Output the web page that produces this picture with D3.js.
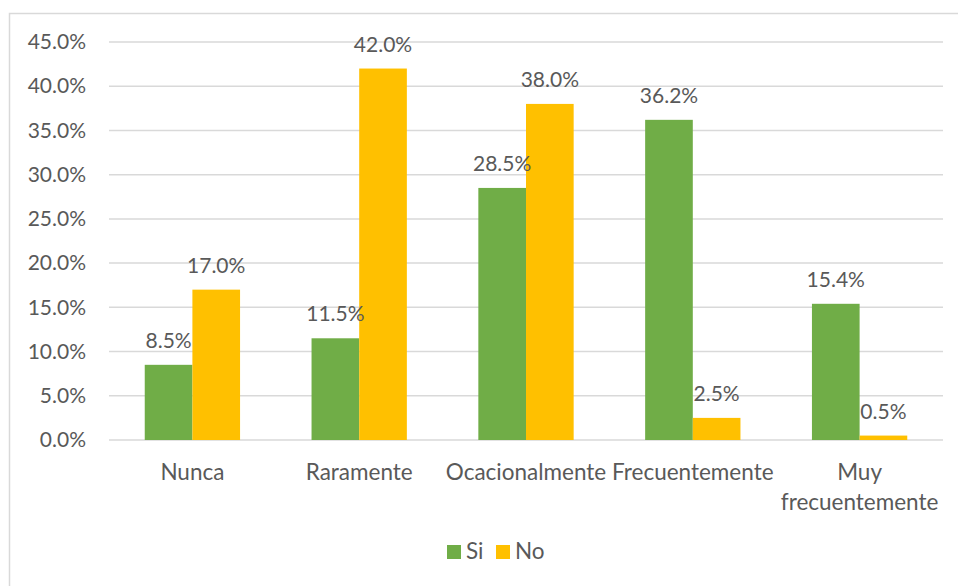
<!DOCTYPE html>
<html>
<head>
<meta charset="utf-8">
<script src="https://cdn.jsdelivr.net/npm/d3@7"></script>
<style>
  html, body { margin: 0; padding: 0; background: #fff; }
  svg { display: block; }
  text { font-family: Lato, "Open Sans", sans-serif; fill: #595959; }
</style>
</head>
<body>
<svg id="chart" width="958" height="586"></svg>
<script>
const categories = ["Nunca", "Raramente", "Ocacionalmente", "Frecuentemente", "Muy frecuentemente"];
const categoryLines = [["Nunca"], ["Raramente"], ["Ocacionalmente"], ["Frecuentemente"], ["Muy", "frecuentemente"]];
const seriesNames = ["Si", "No"];
const siValues = [8.5, 11.5, 28.5, 36.2, 15.4];
const noValues = [17.0, 42.0, 38.0, 2.5, 0.5];
const yTicks = [0, 5, 10, 15, 20, 25, 30, 35, 40, 45];
const colors = ["#70AD47", "#FFC000"];

const svg = d3.select("#chart");
const W = 958, H = 586;
const plot = { left: 109, right: 943, top: 42, bottom: 440 };
const numSize = 21;
const labelSize = 22.5;

// outer frame
svg.append("rect")
  .attr("x", 9.5).attr("y", 13.5)
  .attr("width", W + 10).attr("height", H + 10)
  .attr("fill", "none").attr("stroke", "#d9d9d9").attr("stroke-width", 1.5);

const x0 = d3.scaleBand().domain(categories).range([plot.left, plot.right]).paddingInner(0).paddingOuter(0);
// 150% gap width: two bars take 2/3.5 of each band
const barW = x0.bandwidth() / 3.5;
const x1 = d3.scaleBand().domain(seriesNames).range([0, barW * 2]);
const y = d3.scaleLinear().domain([0, 45]).range([plot.bottom, plot.top]);

// gridlines
svg.append("g").selectAll("line").data(yTicks).join("line")
  .attr("x1", plot.left).attr("x2", plot.right)
  .attr("y1", d => y(d)).attr("y2", d => y(d))
  .attr("stroke", "#d9d9d9").attr("stroke-width", 1.5);

// y axis labels
const yAxis = d3.axisLeft(y).tickValues(yTicks).tickFormat(d => d.toFixed(1) + "%").tickSize(0).tickPadding(0);
const yg = svg.append("g").attr("transform", `translate(${plot.left - 23},0)`).call(yAxis);
yg.select(".domain").remove();
yg.selectAll("text").attr("font-size", numSize).attr("font-family", "Lato").attr("fill", "#595959");

const data = categories.map((c, i) => ({ cat: c, vals: [siValues[i], noValues[i]] }));

const groups = svg.append("g").selectAll("g").data(data).join("g")
  .attr("transform", d => `translate(${x0(d.cat) + (x0.bandwidth() - barW * 2) / 2},0)`);

groups.selectAll("rect").data(d => d.vals.map((v, j) => ({ s: seriesNames[j], v, j }))).join("rect")
  .attr("x", d => x1(d.s))
  .attr("width", x1.bandwidth())
  .attr("y", d => y(d.v))
  .attr("height", d => y(0) - y(d.v))
  .attr("fill", d => colors[d.j]);

groups.selectAll("text.val").data(d => d.vals.map((v, j) => ({ s: seriesNames[j], v, j }))).join("text")
  .attr("class", "val")
  .attr("x", d => x1(d.s) + x1.bandwidth() / 2)
  .attr("y", d => y(d.v) - 17)
  .attr("text-anchor", "middle")
  .attr("font-size", numSize)
  .text(d => d.v.toFixed(1) + "%");

// category labels
const xl = svg.append("g").selectAll("text").data(categories).join("text")
  .attr("x", d => x0(d) + x0.bandwidth() / 2)
  .attr("y", 480)
  .attr("text-anchor", "middle")
  .attr("font-size", labelSize);
xl.each(function(d, i) {
  const t = d3.select(this);
  categoryLines[i].forEach((ln, k) => {
    t.append("tspan").attr("x", x0(d) + x0.bandwidth() / 2).attr("dy", k === 0 ? 0 : 30).text(ln);
  });
});

// legend
const legend = svg.append("g").attr("transform", "translate(447,545)");
seriesNames.forEach((s, i) => {
  const g = legend.append("g").attr("transform", `translate(${i * 49},0)`);
  g.append("rect").attr("width", 14).attr("height", 14).attr("fill", colors[i]);
  g.append("text").attr("x", 19).attr("y", 14).attr("font-size", labelSize).text(s);
});
</script>
</body>
</html>
